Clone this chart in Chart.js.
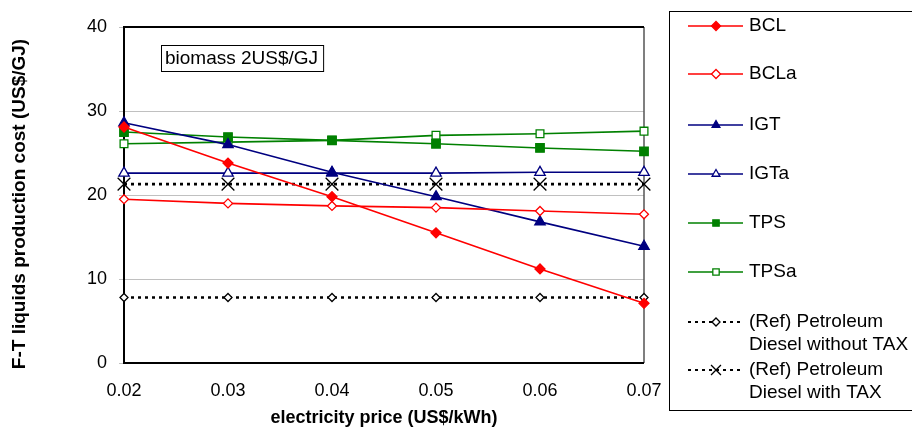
<!DOCTYPE html>
<html>
<head>
<meta charset="utf-8">
<script src="https://cdn.jsdelivr.net/npm/chart.js@4/dist/chart.umd.min.js"></script>
<style>
    html, body { margin: 0; padding: 0; background: #fff; }
    #wrap { width: 912px; height: 429px; }
</style>
</head>
<body>
<div id="wrap"><canvas id="chart" width="912" height="429"></canvas></div>
<script>
// electricity price (US$/kWh)
const prices = ['0.02', '0.03', '0.04', '0.05', '0.06', '0.07'];

// F-T liquids production cost (US$/GJ)
const bcl = [28.1, 23.8, 19.8, 15.5, 11.2, 7.1];
const bcla = [19.5, 19.0, 18.7, 18.5, 18.1, 17.7];
const igt = [28.6, 26.0, 22.7, 19.8, 16.8, 13.9];
const igta = [22.6, 22.6, 22.6, 22.6, 22.7, 22.7];
const tps = [27.5, 26.9, 26.5, 26.1, 25.6, 25.2];
const tpsa = [26.1, 26.3, 26.5, 27.1, 27.3, 27.6];
const refNoTax = [7.8, 7.8, 7.8, 7.8, 7.8, 7.8];
const refTax = [21.3, 21.3, 21.3, 21.3, 21.3, 21.3];

const yMin = 0, yMax = 40, yStep = 10;
const noteText = 'biomass 2US$/GJ';
const yTitle = 'F-T liquids production cost (US$/GJ)';

const FONT = '"Liberation Sans", Arial, sans-serif';
const RED = '#ff0000', NAVY = '#000080', GREEN = '#008000';

function serie(label, data, color, style, radius, filled, extra) {
    return Object.assign({
        label: label,
        data: data,
        borderColor: color,
        backgroundColor: filled ? color : '#ffffff',
        pointStyle: style,
        pointRadius: radius,
        pointHoverRadius: radius,
        pointBorderColor: color,
        pointBackgroundColor: filled ? color : '#ffffff',
        pointBorderWidth: 1.3,
        borderWidth: 1.6,
        tension: 0
    }, extra || {});
}

const datasets = [
    serie('BCL', bcl, RED, 'rectRot', 5, true),
    serie('BCLa', bcla, RED, 'rectRot', 4.5, false),
    serie('IGT', igt, NAVY, 'triangle', 6, true),
    serie('IGTa', igta, NAVY, 'triangle', 6, false),
    serie('TPS', tps, GREEN, 'rect', 6, true),
    serie('TPSa', tpsa, GREEN, 'rect', 5.5, false),
    serie('(Ref) Petroleum\nDiesel without TAX', refNoTax, '#000000', 'rectRot', 4, false,
        { borderDash: [3, 4], borderWidth: 2.6 }),
    serie('(Ref) Petroleum\nDiesel with TAX', refTax, '#000000', 'crossRot', 9, false,
        { borderDash: [3, 4], borderWidth: 2.6, pointBorderWidth: 1.3 })
];

// plot frame, y title, annotation box and the boxed legend on the right
const extras = {
    id: 'extras',
    beforeDatasetsDraw(chart) {
        const { ctx, chartArea: a } = chart;
        ctx.save();
        ctx.strokeStyle = '#555';
        ctx.lineWidth = 1.5;
        ctx.beginPath();
        ctx.moveTo(a.right, a.top);
        ctx.lineTo(a.right, a.bottom);
        ctx.stroke();
        ctx.strokeStyle = '#000';
        ctx.lineWidth = 2;
        ctx.beginPath();
        ctx.moveTo(a.right, a.top);
        ctx.lineTo(a.left, a.top);
        ctx.lineTo(a.left, a.bottom);
        ctx.lineTo(a.right, a.bottom);
        ctx.stroke();
        ctx.restore();
    },
    afterDraw(chart) {
        const ctx = chart.ctx;
        ctx.save();

        // y axis title (sits a bit below the axis centre in the original)
        ctx.save();
        ctx.translate(20, 204);
        ctx.rotate(-Math.PI / 2);
        ctx.font = 'bold 19px ' + FONT;
        ctx.fillStyle = '#000';
        ctx.textAlign = 'center';
        ctx.textBaseline = 'middle';
        ctx.fillText(yTitle, 0, 0);
        ctx.restore();

        // note box
        ctx.font = '19px ' + FONT;
        const w = ctx.measureText(noteText).width;
        ctx.fillStyle = '#fff';
        ctx.fillRect(161, 45, w + 9, 26);
        ctx.strokeStyle = '#000';
        ctx.lineWidth = 1;
        ctx.strokeRect(161.5, 45.5, w + 9, 26);
        ctx.fillStyle = '#000';
        ctx.textBaseline = 'middle';
        ctx.fillText(noteText, 165, 59);

        // legend
        ctx.strokeStyle = '#000';
        ctx.lineWidth = 1;
        ctx.strokeRect(669.5, 11.5, 250, 399);
        const rows = [26, 74, 125, 174, 223, 272, 322, 370];
        ctx.font = '19px ' + FONT;
        chart.data.datasets.forEach((ds, i) => {
            const y = rows[i];
            ctx.save();
            ctx.strokeStyle = ds.borderColor;
            ctx.lineWidth = ds.borderDash ? 2 : 1.5;
            ctx.setLineDash(ds.borderDash ? [3, 4] : []);
            ctx.beginPath();
            ctx.moveTo(688, y);
            ctx.lineTo(743, y);
            ctx.stroke();
            ctx.setLineDash([]);
            ctx.fillStyle = ds.pointBackgroundColor;
            ctx.strokeStyle = ds.pointBorderColor;
            ctx.lineWidth = ds.pointBorderWidth;
            Chart.helpers.drawPoint(ctx, {
                pointStyle: ds.pointStyle,
                radius: ds.pointStyle === 'crossRot' ? 7 : Math.min(ds.pointRadius, 4.5),
                rotation: 0,
                borderWidth: ds.pointBorderWidth
            }, 716, y);
            ctx.restore();
            ctx.fillStyle = '#000';
            ctx.textBaseline = 'middle';
            ds.label.split('\n').forEach((line, k) => {
                ctx.fillText(line, 749, y + k * 23);
            });
        });
        ctx.restore();
    }
};

new Chart(document.getElementById('chart'), {
    type: 'line',
    data: { labels: prices, datasets: datasets },
    options: {
        responsive: false,
        animation: false,
        events: [],
        layout: { padding: { left: 0, right: 268, top: 27, bottom: 0 } },
        plugins: {
            legend: { display: false },
            tooltip: { enabled: false }
        },
        scales: {
            x: {
                type: 'category',
                offset: false,
                grid: { display: false, drawTicks: false },
                border: { display: false },
                ticks: { color: '#000', font: { family: FONT, size: 18 }, padding: 17, maxRotation: 0 },
                title: {
                    display: true,
                    text: 'electricity price (US$/kWh)',
                    color: '#000',
                    font: { family: FONT, size: 18, weight: 'bold' },
                    padding: { top: 4, bottom: 0 }
                },
                afterFit(scale) { scale.height = 66; }
            },
            y: {
                min: yMin,
                max: yMax,
                ticks: { stepSize: yStep, color: '#000', font: { family: FONT, size: 18 }, padding: 12 },
                grid: { color: '#c0c0c0', lineWidth: 1, drawTicks: true, tickLength: 5 },
                border: { display: false },
                title: { display: false },
                afterFit(scale) { scale.width = 124; }
            }
        }
    },
    plugins: [extras]
});
</script>
</body>
</html>
